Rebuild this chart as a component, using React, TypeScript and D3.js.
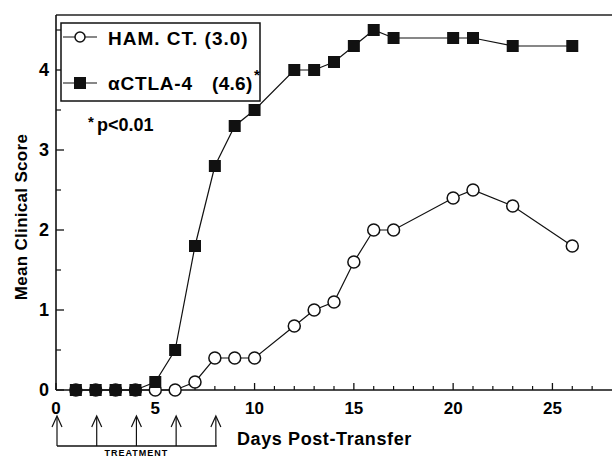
import { useMemo } from "react";
import * as d3 from "d3";

const WIDTH = 612;
const HEIGHT = 458;
const FONT = "'Liberation Sans', Arial, Helvetica, sans-serif";

// days post-transfer and mean clinical score per group
const ctDays = [1, 2, 3, 4, 5, 6, 7, 8, 9, 10, 12, 13, 14, 15, 16, 17, 20, 21, 23, 26];
const ctScores = [0, 0, 0, 0, 0, 0, 0.1, 0.4, 0.4, 0.4, 0.8, 1.0, 1.1, 1.6, 2.0, 2.0, 2.4, 2.5, 2.3, 1.8];
const ctlaDays = [1, 2, 3, 4, 5, 6, 7, 8, 9, 10, 12, 13, 14, 15, 16, 17, 20, 21, 23, 26];
const ctlaScores = [0, 0, 0, 0, 0.1, 0.5, 1.8, 2.8, 3.3, 3.5, 4.0, 4.0, 4.1, 4.3, 4.5, 4.4, 4.4, 4.4, 4.3, 4.3];
const treatmentDays = [0, 2, 4, 6, 8];
const xTickLabels = [0, 5, 10, 15, 20, 25];
const yTickLabels = [0, 1, 2, 3, 4];

export default function App() {
  const x = useMemo(() => d3.scaleLinear().domain([0, 28]).range([56, 612]), []);
  const y = useMemo(() => d3.scaleLinear().domain([0, 4.6875]).range([390, 15]), []);

  const line = d3
    .line<[number, number]>()
    .x((d) => x(d[0]))
    .y((d) => y(d[1]));

  const ct = ctDays.map((d, i) => [d, ctScores[i]] as [number, number]);
  const ctla = ctlaDays.map((d, i) => [d, ctlaScores[i]] as [number, number]);

  const minorX = d3.range(1, 28).filter((d) => d % 5 !== 0);
  const minorY = [0.5, 1.5, 2.5, 3.5, 4.5];
  const x0 = x(0);
  const y0 = y(0);

  return (
    <svg
      width={WIDTH}
      height={HEIGHT}
      style={{ position: "absolute", left: 0, top: 0, background: "#fff" }}
      fontFamily={FONT}
    >
      {/* frame */}
      <line x1={x0} x2={WIDTH} y1={y.range()[1]} y2={y.range()[1]} stroke="#222" strokeWidth={1.4} />
      <line x1={x0} x2={x0} y1={y.range()[1]} y2={y0} stroke="#111" strokeWidth={1.6} />
      <line x1={x0} x2={WIDTH} y1={y0} y2={y0} stroke="#111" strokeWidth={1.6} />

      {/* x ticks */}
      {xTickLabels.map((d) => (
        <g key={`xt${d}`}>
          <line x1={x(d)} x2={x(d)} y1={y0} y2={y0 - 7} stroke="#111" strokeWidth={1.3} />
          <text x={x(d)} y={414} textAnchor="middle" fontSize={17} fontWeight="bold">
            {d}
          </text>
        </g>
      ))}
      {minorX.map((d) => (
        <line key={`xm${d}`} x1={x(d)} x2={x(d)} y1={y0} y2={y0 - 4} stroke="#111" strokeWidth={1.2} />
      ))}

      {/* y ticks */}
      {yTickLabels.map((d) => (
        <g key={`yt${d}`}>
          <line x1={x0} x2={x0 + 8} y1={y(d)} y2={y(d)} stroke="#111" strokeWidth={1.3} />
          <text x={49} y={y(d) + 6} textAnchor="end" fontSize={18} fontWeight="bold">
            {d}
          </text>
        </g>
      ))}
      {minorY.map((d) => (
        <line key={`ym${d}`} x1={x0} x2={x0 + 5} y1={y(d)} y2={y(d)} stroke="#111" strokeWidth={1.2} />
      ))}

      <text
        transform="translate(27,217) rotate(-90)"
        textAnchor="middle"
        fontSize={17}
        fontWeight="bold"
        letterSpacing={0.3}
      >
        Mean Clinical Score
      </text>
      <text x={237} y={445} fontSize={18} fontWeight="bold" letterSpacing={0.6}>
        Days Post-Transfer
      </text>

      {/* treatment arrows */}
      {treatmentDays.map((d) => (
        <g key={`tr${d}`} fill="none" stroke="#111" strokeWidth={1.2}>
          <line x1={x(d) + 1} x2={x(d) + 1} y1={446} y2={417} />
          <polyline points={`${x(d) - 4},${427} ${x(d) + 1},${416} ${x(d) + 6},${427}`} />
        </g>
      ))}
      <line x1={x(0) + 1} x2={x(8) + 2} y1={446} y2={446} stroke="#111" strokeWidth={1.4} />
      <text x={(x(0) + x(8)) / 2 + 1} y={456} textAnchor="middle" fontSize={9} fontWeight="bold" letterSpacing={1}>
        TREATMENT
      </text>

      {/* series */}
      <path d={line(ct) ?? ""} fill="none" stroke="#111" strokeWidth={1.2} />
      {ct.map((d, i) => (
        <circle key={`c${i}`} cx={x(d[0])} cy={y(d[1])} r={6} fill="#fff" stroke="#111" strokeWidth={1.5} />
      ))}
      <path d={line(ctla) ?? ""} fill="none" stroke="#111" strokeWidth={1.2} />
      {ctla.map((d, i) => (
        <rect key={`s${i}`} x={x(d[0]) - 6} y={y(d[1]) - 6} width={12} height={12} fill="#111" />
      ))}

      {/* legend */}
      <rect x={61} y={23} width={199} height={78} fill="#fff" stroke="#111" strokeWidth={1.5} />
      <line x1={63} x2={97} y1={37} y2={37} stroke="#111" strokeWidth={1.2} />
      <circle cx={80} cy={37} r={5} fill="#fff" stroke="#111" strokeWidth={1.5} />
      <text x={108} y={45} fontSize={19} fontWeight="bold" letterSpacing={1}>
        HAM. CT. (3.0)
      </text>
      <line x1={63} x2={97} y1={83} y2={83} stroke="#111" strokeWidth={1.2} />
      <rect x={74} y={77} width={12} height={12} fill="#111" />
      <text x={108} y={90} fontSize={19} fontWeight="bold" letterSpacing={0.8}>
        αCTLA-4
      </text>
      <text x={212} y={90} fontSize={19} fontWeight="bold" letterSpacing={0.3}>
        (4.6)
      </text>
      <text x={254} y={80} fontSize={15} fontWeight="bold">
        *
      </text>
      <text x={88} y={127} fontSize={15} fontWeight="bold">
        *
      </text>
      <text x={97} y={131} fontSize={18} fontWeight="bold">
        p&lt;0.01
      </text>
    </svg>
  );
}
